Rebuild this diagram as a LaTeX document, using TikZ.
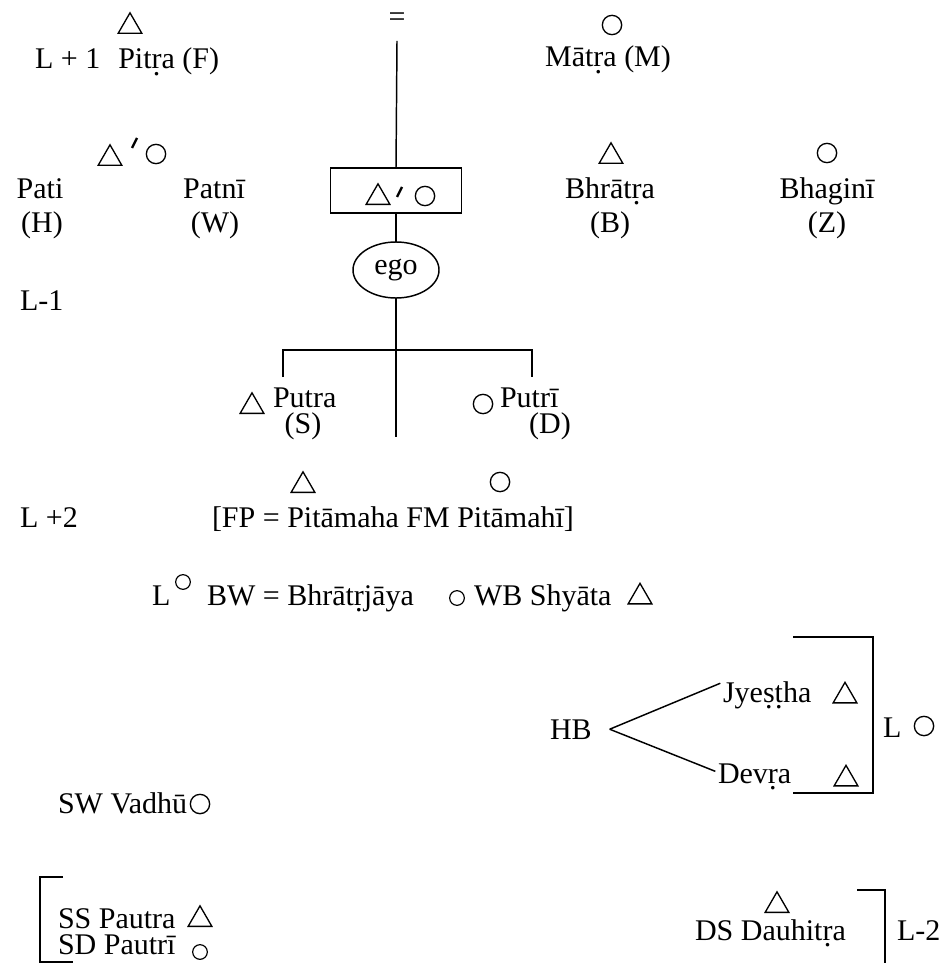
\documentclass[tikz,border=0pt]{standalone}
\usepackage{fontspec}
\setmainfont{Liberation Serif}
\usetikzlibrary{shapes.geometric}
\newcommand\udot[1]{\oalign{#1\crcr\hidewidth.\hidewidth}}
\begin{document}
\begin{tikzpicture}[x=0.75pt,y=-0.75pt,
  every node/.style={font=\fontsize{22.5}{27}\selectfont, inner sep=0pt, outer sep=0pt},
  ln/.style={line width=1.1pt},
  tri/.style={regular polygon, regular polygon sides=3, draw, line width=1pt, minimum size=20.5pt},
  circ/.style={circle, draw, line width=1pt, minimum size=14.5pt},
  scirc/.style={circle, draw, line width=0.9pt, minimum size=11pt},
  slash/.style={line width=1.7pt},
  lbl/.style={anchor=base west},
  lblc/.style={anchor=base}]
\useasboundingbox (0,0) rectangle (950,963);

% generation +1
\node[tri] (tF) at (130,26.5) {};
\node[lbl] (pitra) at (35,69) {L + 1\hspace{0.6em}Pit\udot{r}a (F)};
\node (eq) at (397,20) {=};
\node[circ] (cM) at (612,25) {};
\node[lblc] (matra) at (608,67) {Māt\udot{r}a (M)};

% spouse
\node[tri] (tHW) at (110,158.5) {};
\draw[slash] (132,148) -- (137,138);
\node[circ] (cHW) at (156,154) {};
\node[lblc] (pati) at (40,199) {Pati};
\node[lblc] (patni) at (214,199) {Patnī};
\node[lblc] (ph) at (42,232) {(H)};
\node[lblc] (pw) at (215,232) {(W)};

% ego box
\node[draw, ln, minimum width=98.25pt, minimum height=33.75pt] (kbox) at (396,190.5) {};
\node[tri] (tbox) at (378,197.5) {};
\draw[slash] (397,197) -- (402,187);
\node[circ] (cbox) at (425,196) {};

% siblings
\node[tri] (tB) at (611,156.5) {};
\node[lblc] (bhratra) at (610,198) {Bhrāt\udot{r}a};
\node[lblc] (pb) at (610,232) {(B)};
\node[circ] (cZ) at (827,153) {};
\node[lblc] (bhagini) at (827,198) {Bhaginī};
\node[lblc] (pz) at (827,232) {(Z)};

% ego
\node[ellipse, draw, ln, minimum width=64.5pt, minimum height=42pt] (ego) at (396,270) {ego};
\draw[ln] ([yshift=-10.5pt]eq.south) -- (kbox.north);
\draw[ln] (kbox.south) -- (ego.north);
\coordinate (spineend) at (396,437);
\draw[ln] (ego.south) -- (spineend);

\node[lbl] (lm1) at (20,310) {L-1};

% children
\coordinate (barl) at (283,350);
\coordinate (barr) at (532,350);
\coordinate (barld) at (283,377);
\coordinate (barrd) at (532,377);
\draw[ln] (barld) -- (barl) -- (barr) -- (barrd);
\node[tri] (tS) at (252,406.5) {};
\node[lbl] (putra) at (273,407) {Putra};
\node[lblc] (ps) at (303,433) {(S)};
\node[circ] (cD) at (483,404) {};
\node[lbl] (putri) at (500,407) {Putrī};
\node[lblc] (pd) at (550,433) {(D)};

% grandparents
\node[tri] (tFP) at (303,485.5) {};
\node[circ] (cFM) at (500,482) {};
\node[lbl] (lp2) at (20,527) {L +2};
\node[lbl] (fp) at (212,527) {[FP = Pitāmaha FM Pitāmahī]};

% in-laws row
\node[lbl] (lbw) at (152,605) {L};
\node[scirc] (cL) at (183,582) {};
\node[lbl] (bw) at (207,605) {BW = Bhrāt\udot{r}jāya};
\node[scirc] (cBW) at (457,598) {};
\node[lbl] (wb) at (474,605) {WB Shyāta};
\node[tri] (tWB) at (640,597) {};

% HB
\node[lbl] (hb) at (550,739) {HB};
\node[lbl] (jy) at (723,702) {Jye\udot{s}\udot{t}ha};
\node[tri] (tJy) at (845,696) {};
\node[lbl] (dev) at (718,783) {Dev\udot{r}a};
\node[tri] (tDev) at (846,779) {};
\draw[ln] ([xshift=13.5pt]hb.east) -- ([xshift=-2pt,yshift=9pt]jy.west);
\draw[ln] ([xshift=13.5pt]hb.east) -- ([xshift=-2pt,yshift=4pt]dev.west);
\coordinate (rb1) at (793,637);
\coordinate (rb2) at (873,637);
\coordinate (rb3) at (873,793);
\coordinate (rb4) at (793,793);
\draw[ln] (rb1) -- (rb2) -- (rb3) -- (rb4);
\node[lbl] (lo) at (883,737) {L};
\node[circ] (cLo) at (924,726) {};

% daughter-in-law
\node[lbl] (sw) at (58,813) {SW Vadhū};
\node[circ] (cSW) at (200,804) {};

% grandchildren
\coordinate (lb1) at (63,877);
\coordinate (lb2) at (40,877);
\coordinate (lb3) at (40,962);
\coordinate (lb4) at (73,962);
\draw[ln] (lb1) -- (lb2) -- (lb3) -- (lb4);
\node[lbl] (ss) at (58,928) {SS Pautra};
\node[tri] (tSS) at (200,919.5) {};
\node[lbl] (sd) at (58,954) {SD Pautrī};
\node[scirc] (cSD) at (200,952) {};

\node[tri] (tDS) at (777,905.5) {};
\node[lbl] (ds) at (695,940) {DS Dauhit\udot{r}a};
\coordinate (db1) at (857,890);
\coordinate (db2) at (885,890);
\coordinate (db3) at (885,963);
\draw[ln] (db1) -- (db2) -- (db3);
\node[lbl] (lm2) at (897,940) {L-2};
\end{tikzpicture}
\end{document}
